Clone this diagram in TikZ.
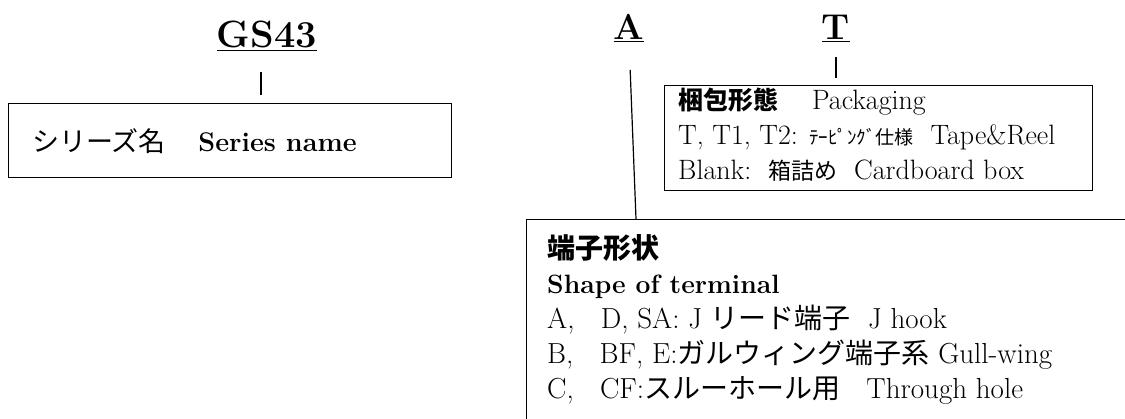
\documentclass[tikz,border=0pt]{standalone}
\usepackage{fontspec}
\newfontfamily\jp{Noto Sans CJK JP}
\newcommand\jpat[2]{{\jp\fontsize{#1}{35}\selectfont #2}}
\begin{document}
\begin{tikzpicture}[x=1pt,y=-1pt,
  code/.style={font=\fontsize{36}{40}\selectfont\bfseries, inner sep=0pt, anchor=base},
  frame/.style={draw, line width=1.3pt, anchor=north west, inner sep=0pt},
  body/.style={font=\fontsize{28}{35}\selectfont, align=left, anchor=north west, inner sep=0pt}]
\useasboundingbox (0,0) rectangle (1125,419);
\clip (0,0) rectangle (1125,419);
% part codes
\node[code, font=\fontsize{38}{40}\selectfont\bfseries] (gs) at (267,48) {\underline{GS43}};
\node[code] (a) at (629,40) {\underline{A}};
\node[code] (t) at (836,40) {\underline{T}};
% boxes
\node[frame, minimum width=443, minimum height=74] (series) at (8,103) {};
\node[body, anchor=west, font=\fontsize{27}{35}\selectfont] (seriestext) at (32,141)
  {{\jp シリーズ名}\ \ \ \ \textbf{Series name}};
\node[frame, minimum width=428, minimum height=105] (pack) at (664,85) {};
\node[body] (packtext) at (678,88)
  {{\jp\bfseries\fontsize{25}{35}\selectfont 梱包形態}\ \ \ \ Packaging\\
   T, T1, T2: \jpat{19}{ﾃｰﾋﾟﾝｸﾞ仕様}\ \ Tape\&Reel\\
   Blank:\ \ \jpat{23}{箱詰め}\ \ Cardboard box};
\node[frame, minimum width=700, minimum height=300] (term) at (526,219) {};
\node[body, font=\fontsize{29}{35}\selectfont] (termtext) at (547,234)
  {{\jp\bfseries\fontsize{28}{35}\selectfont 端子形状}\\
   {\bfseries\fontsize{26.5}{35}\selectfont Shape of terminal}\\
   A,\ \ \ D, SA: J \jpat{28}{リード端子}\ \ J hook\\
   B,\ \ \ BF, E:\jpat{28}{ガルウィング端子系} Gull-wing\\
   C,\ \ \ CF:\jpat{28}{スルーホール用}\ \ \ Through hole};
% leader lines
\coordinate (aend) at (636,219);
\draw[line width=1.2pt, shorten <=24pt, shorten >=8pt] ([xshift=-6pt]gs.base) -- ([xshift=-6pt]gs.base |- series.north);
\draw[line width=1.2pt, shorten <=30pt] (a.base) -- (aend);
\draw[line width=1.2pt, shorten <=17pt, shorten >=7pt] (t.base) -- (t.base |- pack.north);
\end{tikzpicture}
\end{document}
